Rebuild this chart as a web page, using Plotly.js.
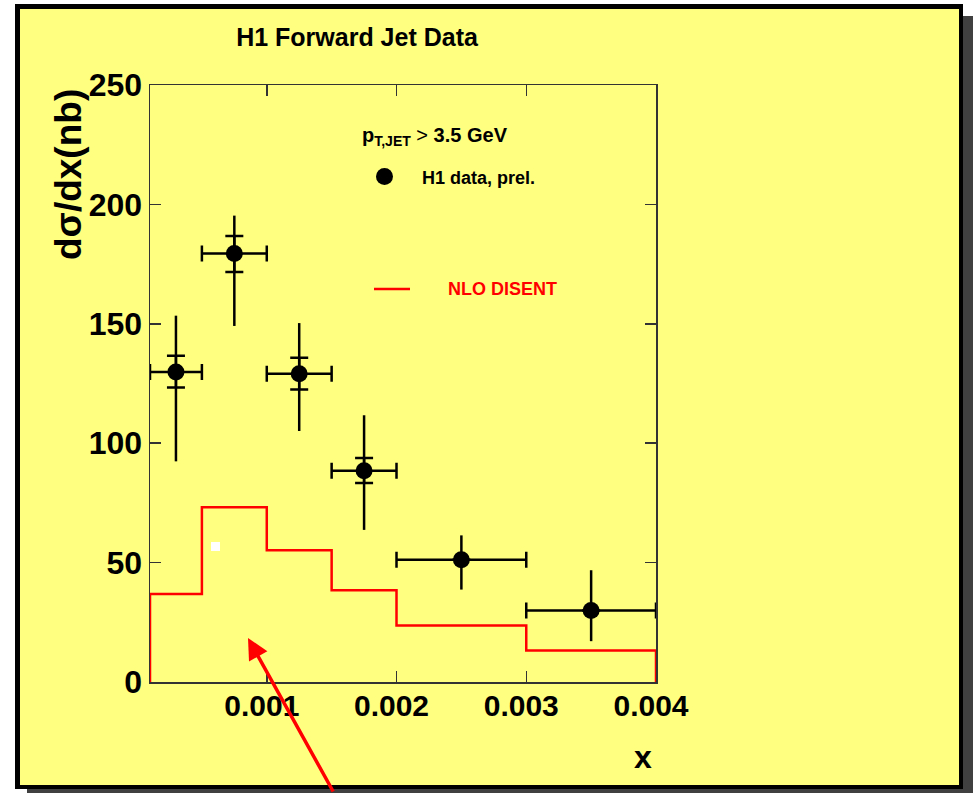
<!DOCTYPE html>
<html>
<head>
<meta charset="utf-8">
<script src="https://cdn.plot.ly/plotly-3.0.1.min.js"></script>
<style>html,body{margin:0;padding:0;background:#fff;}#chart{width:973px;height:793px;}</style>
</head>
<body>
<div id="chart"></div>
<script>
// ---- data ----
const xCenters = [0.0003, 0.00075, 0.00125, 0.00175, 0.0025, 0.0035];
const xLow     = [0.0001, 0.0005, 0.001, 0.0015, 0.002, 0.003];
const xHigh    = [0.0005, 0.001, 0.0015, 0.002, 0.003, 0.004];
const dataY    = [129.8, 179.4, 129.1, 88.5, 51.2, 29.9];
const statUp   = [136.6, 186.8, 135.8, 93.8, 51.2, 29.9];
const statDown = [123.3, 171.7, 122.5, 83.3, 51.2, 29.9];
const totUp    = [153.4, 195.3, 150.3, 111.7, 61.4, 46.8];
const totDown  = [92.4, 149.1, 105.1, 63.7, 38.7, 17.1];
const nloEdges = [0.0001, 0.0005, 0.001, 0.0015, 0.002, 0.003, 0.004];
const nloVals  = [36.8, 73.2, 55.2, 38.4, 23.7, 13.2];
const xTickVals = [0.001, 0.002, 0.003, 0.004];
const xTickText = ['0.001', '0.002', '0.003', '0.004'];

// ---- derived ----
const diff = (a, b) => a.map((v, i) => v - b[i]);
const nloX = [nloEdges[0], nloEdges[0]].concat(nloEdges.slice(1, -1), [nloEdges[nloEdges.length-1], nloEdges[nloEdges.length-1]]);
const nloY = [0].concat(nloVals, [nloVals[nloVals.length-1], 0]);

// pixel -> paper helpers (layout only)
const L = 150, R = 656, T = 85, B = 682;
const px = x => (x - L) / (R - L);
const py = y => (B - y) / (B - T);

const FONT = 'Liberation Sans, Arial, sans-serif';

const traces = [
  {
    x: nloX, y: nloY, type: 'scatter', mode: 'lines',
    line: {shape: 'hv', color: '#ff0000', width: 2.5},
    hoverinfo: 'skip', showlegend: false
  },
  {
    x: xCenters, y: dataY, type: 'scatter', mode: 'markers',
    marker: {size: 1, color: 'rgba(0,0,0,0)'},
    error_y: {type: 'data', symmetric: false, array: diff(statUp, dataY), arrayminus: diff(dataY, statDown),
              color: '#000', thickness: 2.5, width: 9},
    showlegend: false, hoverinfo: 'skip'
  },
  {
    x: xCenters, y: dataY, type: 'scatter', mode: 'markers',
    marker: {size: 17, color: '#000'},
    error_y: {type: 'data', symmetric: false, array: diff(totUp, dataY), arrayminus: diff(dataY, totDown),
              color: '#000', thickness: 2.5, width: 0},
    error_x: {type: 'data', symmetric: false, array: diff(xHigh, xCenters), arrayminus: diff(xCenters, xLow),
              color: '#000', thickness: 2.5, width: 8},
    showlegend: false
  }
];

const layout = {
  width: 973, height: 793,
  margin: {l: L, r: 973 - R, t: T, b: 793 - B, pad: 0},
  paper_bgcolor: '#ffffff',
  plot_bgcolor: 'rgba(0,0,0,0)',
  showlegend: false,
  title: {text: '<b>H1 Forward Jet Data</b>', x: 357/973, xanchor: 'center', y: 1 - 37/793, yanchor: 'middle',
          font: {family: FONT, size: 25, color: '#000'}},
  xaxis: {
    range: [0.0001, 0.004], tickvals: xTickVals, ticktext: xTickText,
    ticks: 'inside', ticklen: 11, tickwidth: 1.5, tickcolor: '#333',
    showline: true, linecolor: '#333', linewidth: 1.5, mirror: 'ticks',
    showgrid: false, zeroline: false, ticklabelshift: -5, ticklabelstandoff: -4,
    tickfont: {family: FONT, size: 30, color: '#000', weight: 'bold'}
  },
  yaxis: {
    range: [0, 250], dtick: 50,
    ticks: 'inside', ticklen: 11, tickwidth: 1.5, tickcolor: '#333',
    showline: true, linecolor: '#333', linewidth: 1.5, mirror: 'ticks',
    showgrid: false, zeroline: false,
    tickfont: {family: FONT, size: 32, color: '#000', weight: 'bold'}
  },
  shapes: [
    {type: 'rect', xref: 'paper', yref: 'paper', x0: px(27), x1: px(990), y0: py(16), y1: py(810),
     fillcolor: '#404040', line: {width: 0}, layer: 'below'},
    {type: 'rect', xref: 'paper', yref: 'paper', x0: px(15), x1: px(963), y0: py(4), y1: py(789),
     fillcolor: '#000', line: {width: 0}, layer: 'below'},
    {type: 'rect', xref: 'paper', yref: 'paper', x0: px(20), x1: px(959), y0: py(9), y1: py(785),
     fillcolor: '#ffff80', line: {width: 0}, layer: 'below'},
    {type: 'circle', xref: 'paper', yref: 'paper', x0: px(376), x1: px(393), y0: py(168), y1: py(185),
     fillcolor: '#000', line: {width: 0}},
    {type: 'line', xref: 'paper', yref: 'paper', x0: px(374), x1: px(410), y0: py(289), y1: py(289),
     line: {color: '#ff0000', width: 2.5}},
    {type: 'rect', xref: 'paper', yref: 'paper', x0: px(211), x1: px(220), y0: py(542), y1: py(551),
     fillcolor: '#ffffff', line: {width: 0}}
  ],
  annotations: [
    {xref: 'paper', yref: 'paper', x: px(68), y: py(175), text: '<b>dσ/dx(nb)</b>', textangle: -90,
     showarrow: false, xanchor: 'center', yanchor: 'middle', font: {family: FONT, size: 37, color: '#000'}},
    {xref: 'paper', yref: 'paper', x: px(643), y: py(757), text: '<b>x</b>',
     showarrow: false, xanchor: 'center', yanchor: 'middle', font: {family: FONT, size: 32, color: '#000'}},
    {xref: 'paper', yref: 'paper', x: px(360), y: py(136), text: '<b>p<sub>T,JET</sub></b> > <b>3.5 GeV</b>',
     showarrow: false, xanchor: 'left', yanchor: 'middle', font: {family: FONT, size: 20, color: '#000'}},
    {xref: 'paper', yref: 'paper', x: px(420), y: py(178), text: '<b>H1 data, prel.</b>',
     showarrow: false, xanchor: 'left', yanchor: 'middle', font: {family: FONT, size: 18, color: '#000'}},
    {xref: 'paper', yref: 'paper', x: px(446), y: py(289), text: '<b>NLO DISENT</b>',
     showarrow: false, xanchor: 'left', yanchor: 'middle', font: {family: FONT, size: 18, color: '#ff0000'}},
    {xref: 'paper', yref: 'paper', x: px(248), y: py(638), ax: 86, ay: 162, text: '',
     showarrow: true, arrowhead: 2, arrowsize: 1.2, arrowwidth: 3.5, arrowcolor: '#ff0000'}
  ]
};

Plotly.newPlot('chart', traces, layout, {displayModeBar: false, staticPlot: true});
</script>
</body>
</html>
